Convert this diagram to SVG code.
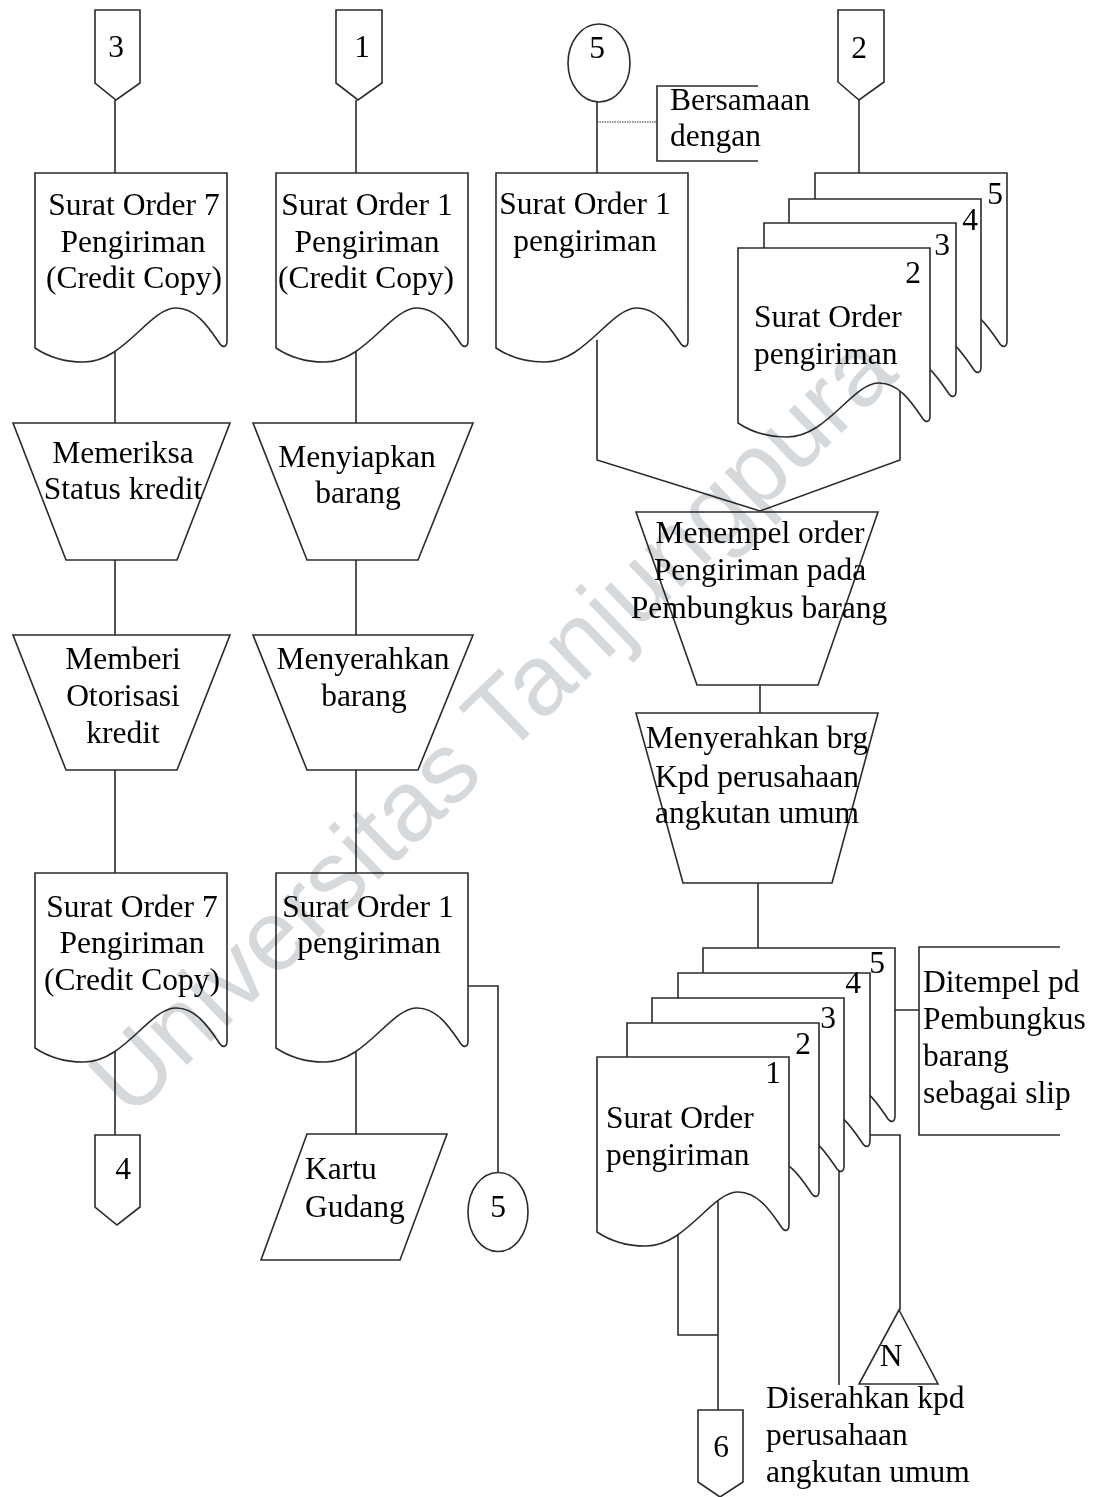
<svg xmlns="http://www.w3.org/2000/svg" xmlns:xlink="http://www.w3.org/1999/xlink" width="1097" height="1497" viewBox="0 0 1097 1497">
<style>
.s{fill:#fff;stroke:#2b2b2b;stroke-width:1.6;stroke-linejoin:miter}
.ln{fill:none;stroke:#2b2b2b;stroke-width:1.6}
.dot{fill:none;stroke:#2b2b2b;stroke-width:1.2;stroke-dasharray:1.5 1}
.t{font-family:"Liberation Serif","Times New Roman",serif;font-size:31.5px;fill:#000}
.c{text-anchor:middle}
.wm{font-family:"Liberation Sans",Arial,sans-serif;font-size:100px;fill:#d6d9dc;mix-blend-mode:multiply}
</style>
<defs>
<path id="doc" d="M0,0 H192 V168 C192,174 188,175 185,171 C176,158 162,134 140,135 C114,136 88,190 48,189 C28,189 12,183 0,175 Z"/>
</defs>
<rect width="1097" height="1497" fill="#fff"/>

<g id="connectors">
<path class="ln" d="M115,100 V173 M115,350 V423 M115,560 V635 M115,770 V873 M115,1050 V1135"/>
<path class="ln" d="M356,100 V173 M356,350 V423 M356,560 V635 M356,770 V873 M356,1050 V1134 M467,986 H498 V1173"/>
<path class="ln" d="M597,102 V173 M597,340 V460 L760,511 L900,460 V390"/>
<path class="dot" d="M597,122 H657"/>
<path class="ln" d="M758,86 H657 V161 H758"/>
<path class="ln" d="M859,100 V173"/>
<path class="ln" d="M760,685 V713 M758,883 V948"/>
<path class="ln" d="M894,1010 H919 M1060,947 H919 V1135 H1060"/>
<path class="ln" d="M869,1135 H900 V1310"/>
<path class="ln" d="M839,1160 V1385"/>
<path class="ln" d="M718,1195 V1410 M678,1235 V1335 H718"/>
</g>

<g id="conn3"><path class="s" d="M95,10 H140 V83 L116,100 L95,83 Z"/><text class="t c" x="116" y="57">3</text></g>
<g id="conn1"><path class="s" d="M336,10 H382 V83 L358,100 L336,83 Z"/><text class="t c" x="362" y="57">1</text></g>
<g id="conn2"><path class="s" d="M838,10 H884 V82 L859,100 L838,82 Z"/><text class="t c" x="859" y="58">2</text></g>
<g id="circle5top"><ellipse class="s" cx="599" cy="63" rx="31" ry="39"/><text class="t c" x="597" y="58">5</text></g>
<g id="note-bersamaan"><text class="t" x="670" y="110">Bersamaan</text><text class="t" x="670" y="146">dengan</text></g>

<g id="doc-so7-top"><use href="#doc" class="s" x="35" y="173"/>
<text class="t c" x="134" y="215">Surat Order 7</text><text class="t c" x="133" y="252">Pengiriman</text><text class="t c" x="134" y="288">(Credit Copy)</text></g>
<g id="doc-so1-top"><use href="#doc" class="s" x="276" y="173"/>
<text class="t c" x="367" y="215">Surat Order 1</text><text class="t c" x="367" y="252">Pengiriman</text><text class="t c" x="366" y="288">(Credit Copy)</text></g>
<g id="doc-so1-col3"><use href="#doc" class="s" x="496" y="173"/>
<text class="t c" x="585" y="214">Surat Order 1</text><text class="t c" x="585" y="251">pengiriman</text></g>

<g id="stack-top">
<use href="#doc" class="s" x="815" y="173"/>
<use href="#doc" class="s" x="789" y="199"/>
<use href="#doc" class="s" x="764" y="223"/>
<use href="#doc" class="s" x="738" y="248"/>
<text class="t c" x="995" y="204">5</text><text class="t c" x="970" y="230">4</text><text class="t c" x="942" y="255">3</text><text class="t c" x="913" y="283">2</text>
<text class="t" x="754" y="327">Surat Order</text><text class="t" x="754" y="364">pengiriman</text>
</g>

<g id="proc-memeriksa"><polygon class="s" points="13,423 230,423 177,560 66,560"/>
<text class="t c" x="123" y="463">Memeriksa</text><text class="t c" x="123" y="499">Status kredit</text></g>
<g id="proc-menyiapkan"><polygon class="s" points="253,423 473,423 418,560 307,560"/>
<text class="t c" x="357" y="467">Menyiapkan</text><text class="t c" x="358" y="503">barang</text></g>
<g id="proc-memberi"><polygon class="s" points="13,635 230,635 177,770 66,770"/>
<text class="t c" x="123" y="669">Memberi</text><text class="t c" x="123" y="706">Otorisasi</text><text class="t c" x="123" y="743">kredit</text></g>
<g id="proc-menyerahkan"><polygon class="s" points="253,635 473,635 418,770 307,770"/>
<text class="t c" x="363" y="669">Menyerahkan</text><text class="t c" x="364" y="706">barang</text></g>

<g id="proc-menempel"><polygon class="s" points="636,512 878,512 818,685 697,685"/>
<text class="t c" x="760" y="543">Menempel order</text><text class="t c" x="760" y="580">Pengiriman pada</text><text class="t c" x="759" y="618">Pembungkus barang</text></g>
<g id="proc-menyerahkan-brg"><polygon class="s" points="636,713 878,713 832,883 683,883"/>
<text class="t c" x="757" y="748">Menyerahkan brg</text><text class="t c" x="757" y="787">Kpd perusahaan</text><text class="t c" x="757" y="823">angkutan umum</text></g>

<g id="doc-so7-bottom"><use href="#doc" class="s" x="35" y="873"/>
<text class="t c" x="132" y="917">Surat Order 7</text><text class="t c" x="132" y="953">Pengiriman</text><text class="t c" x="132" y="990">(Credit Copy)</text></g>
<g id="doc-so1-bottom"><use href="#doc" class="s" x="276" y="873"/>
<text class="t c" x="368" y="917">Surat Order 1</text><text class="t c" x="369" y="953">pengiriman</text></g>

<g id="conn4"><path class="s" d="M95,1135 H140 V1207 L117,1225 L95,1207 Z"/><text class="t c" x="123" y="1179">4</text></g>
<g id="kartu-gudang"><polygon class="s" points="307,1134 447,1134 400,1260 261,1260"/>
<text class="t" x="305" y="1179">Kartu</text><text class="t" x="305" y="1217">Gudang</text></g>
<g id="circle5bottom"><ellipse class="s" cx="498" cy="1212" rx="30" ry="39.5"/><text class="t c" x="498" y="1217">5</text></g>

<g id="stack-bottom">
<use href="#doc" class="s" x="703" y="948"/>
<use href="#doc" class="s" x="678" y="973"/>
<use href="#doc" class="s" x="652" y="998"/>
<use href="#doc" class="s" x="627" y="1023"/>
<use href="#doc" class="s" x="597" y="1057"/>
<text class="t c" x="877" y="973">5</text><text class="t c" x="853" y="993">4</text><text class="t c" x="828" y="1028">3</text><text class="t c" x="803" y="1054">2</text><text class="t c" x="773" y="1083">1</text>
<text class="t" x="606" y="1128">Surat Order</text><text class="t" x="606" y="1165">pengiriman</text>
</g>

<g id="note-ditempel"><text class="t" x="923" y="992">Ditempel pd</text><text class="t" x="923" y="1029">Pembungkus</text><text class="t" x="923" y="1066">barang</text><text class="t" x="923" y="1103">sebagai slip</text></g>

<g id="terminator-N"><polygon class="s" points="899,1310 938,1384 859,1384"/><text class="t c" x="891" y="1366">N</text></g>
<g id="note-diserahkan"><text class="t" x="766" y="1408">Diserahkan kpd</text><text class="t" x="766" y="1445">perusahaan</text><text class="t" x="766" y="1482">angkutan umum</text></g>
<g id="conn6"><path class="s" d="M698,1410 H743 V1482 L720,1497 L698,1482 Z"/><text class="t c" x="721" y="1457">6</text></g>

<text class="wm" x="130" y="1120" transform="rotate(-44 130 1120)">Universitas Tanjungpura</text>
</svg>
